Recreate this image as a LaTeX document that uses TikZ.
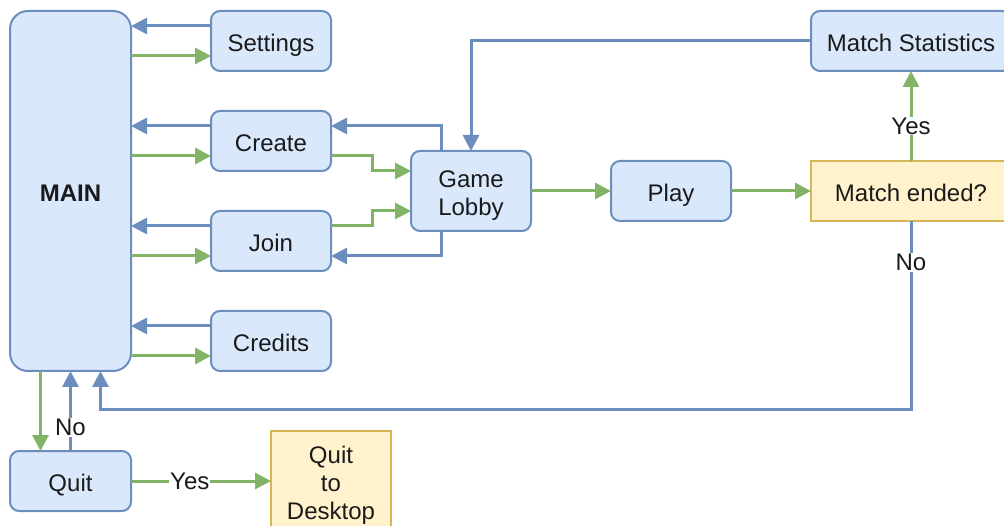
\documentclass[tikz,border=0pt]{standalone}
\usepackage{fontspec}
\setmainfont{Liberation Sans}
\usepackage{tikz}
\usetikzlibrary{positioning}
\usetikzlibrary{arrows.meta}
\usetikzlibrary{calc}

\definecolor{boxfill}{HTML}{DAE8FC}
\definecolor{boxline}{HTML}{6C8EBF}
\definecolor{yellowfill}{HTML}{FFF2CC}
\definecolor{yellowline}{HTML}{D6B656}
\definecolor{greenline}{HTML}{82B366}
\definecolor{textgray}{HTML}{1A1A1A}

\begin{document}
\begin{tikzpicture}[ align = center
                   , node distance = 40pt and 80pt
                   , font = \fontsize{24}{28}\selectfont
                   , >={Triangle[width=16pt, length=16pt]}
                   , every node/.style = { rectangle
                                         , rounded corners = 9pt
                                         , draw = boxline
                                         , fill = boxfill
                                         , line width = 2pt
                                         , text = textgray
                                         , inner sep = 0pt
                                         , outer sep = 0pt
                                         , text height = 26pt
                                         , text depth = 5pt
                                         , align = center
                                         , minimum width = 120pt
                                         , minimum height = 60pt }
                   , decision/.style = { rounded corners = 0pt
                                       , draw = yellowline
                                       , fill = yellowfill }
                   , golink/.style = { ->, draw = greenline, line width = 3pt }
                   , backlink/.style = { ->, draw = boxline, line width = 3pt }
                   ]

  \clip (0,0) rectangle (1004pt,-526pt);

  %%
  %% Nodes
  %%
  \node (main) [minimum width = 121pt, minimum height = 360pt, rounded corners = 18pt]
        at (70.5pt,-191pt) {\bfseries MAIN};
  \node (settings) [below right = 0pt and 80pt of main.north east] {Settings};
  \node (create) [below = of settings] {Create};
  \node (join) [below = of create] {Join};
  \node (credits) [below = of join] {Credits};
  \coordinate (mid) at ($(create.east)!0.5!(join.east)$);
  \node (lobby) [right = of mid, minimum height = 80pt, text height = 54pt] {Game\\Lobby};
  \node (play) [right = of lobby] {Play};
  \node (ended) [right = of play, decision, minimum width = 200pt] {Match ended?};
  \node (stats) [above = 90pt of ended, minimum width = 200pt] {Match Statistics};
  \node (quit) [below = 80pt of main, minimum width = 121pt] {Quit};
  \node (desktop) [right = 140pt of quit, decision, minimum height = 100pt, text height = 82pt]
        {Quit\\to\\Desktop};

  \tikzset{every node/.style={fill=white, inner sep=1pt, text=textgray}}
  %%
  %% Relationship between nodes (arrows)
  %%
  % Menu entries: back to MAIN on top, into the entry below.
  \draw[backlink] ([yshift=15pt]settings.west) -- ([yshift=15pt]settings.west -| main.east);
  \draw[golink] ([yshift=-15pt]settings.west -| main.east) -- ([yshift=-15pt]settings.west);
  \draw[backlink] ([yshift=15pt]create.west) -- ([yshift=15pt]create.west -| main.east);
  \draw[golink] ([yshift=-15pt]create.west -| main.east) -- ([yshift=-15pt]create.west);
  \draw[backlink] ([yshift=15pt]join.west) -- ([yshift=15pt]join.west -| main.east);
  \draw[golink] ([yshift=-15pt]join.west -| main.east) -- ([yshift=-15pt]join.west);
  \draw[backlink] ([yshift=15pt]credits.west) -- ([yshift=15pt]credits.west -| main.east);
  \draw[golink] ([yshift=-15pt]credits.west -| main.east) -- ([yshift=-15pt]credits.west);

  % Lobby.
  \draw[golink] ([yshift=-15pt]create.east) -- ++(41pt,0) |- ([yshift=20pt]lobby.west);
  \draw[golink] ([yshift=15pt]join.east) -- ++(41pt,0) |- ([yshift=-20pt]lobby.west);
  \draw[backlink] ([xshift=-30pt]lobby.north) |- ([yshift=15pt]create.east);
  \draw[backlink] ([xshift=-30pt]lobby.south) |- ([yshift=-15pt]join.east);
  \draw[backlink] (stats.west) -| (lobby.north);

  % Game loop.
  \draw[golink] (lobby) -- (play);
  \draw[golink] (play) -- (ended);
  \draw[golink] (ended) -- node[pos=0.39] {Yes} (stats);
  \draw[backlink] (ended.south) -- node[pos=0.22] {No} ++(0,-189pt)
                  -| ([xshift=30pt]main.south);

  % Quit.
  \draw[golink] ([xshift=-30pt]main.south) -- ([xshift=-30pt]quit.north);
  \draw[backlink] (quit) -- node[pos=0.29] {No} (main);
  \draw[golink] (quit) -- node[pos=0.42] {Yes} (desktop);
\end{tikzpicture}
\end{document}
